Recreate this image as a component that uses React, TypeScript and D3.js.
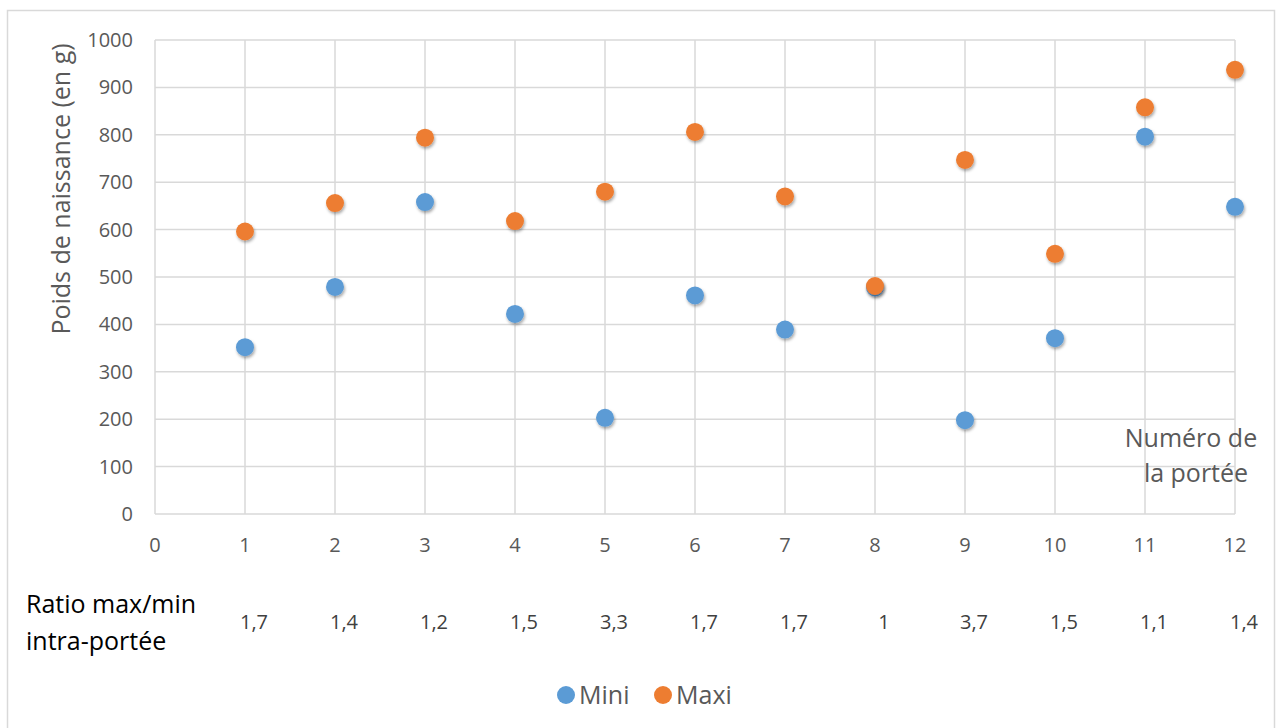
import React from "react";
import * as d3 from "d3";

const litters = [1, 2, 3, 4, 5, 6, 7, 8, 9, 10, 11, 12];
const miniValues = [352, 479, 658, 422, 203, 461, 389, 478, 198, 371, 796, 648];
const maxiValues = [596, 656, 794, 618, 680, 806, 670, 481, 747, 549, 858, 937];
const ratioLabels = ["1,7", "1,4", "1,2", "1,5", "3,3", "1,7", "1,7", "1", "3,7", "1,5", "1,1", "1,4"];
const xTicks = [0, 1, 2, 3, 4, 5, 6, 7, 8, 9, 10, 11, 12];
const yTicks = [0, 100, 200, 300, 400, 500, 600, 700, 800, 900, 1000];
const seriesNames = ["Mini", "Maxi"];
const seriesColors = ["#5B9BD5", "#ED7D31"];

const W = 1280;
const H = 728;
const FONT = "'Open Sans', 'Noto Sans', sans-serif";
const GRAY = "#595959";

export default function App() {
  const x = d3.scaleLinear().domain([0, 12]).range([155, 1235]);
  const y = d3.scaleLinear().domain([0, 1000]).range([514, 40]);
  const series = [miniValues, maxiValues];

  return (
    <svg
      width={W}
      height={H}
      style={{ position: "absolute", left: 0, top: 0, background: "#fff" }}
      fontFamily={FONT}
    >
      <defs>
        <filter id="shadow" x="-50%" y="-50%" width="200%" height="200%">
          <feDropShadow dx="1" dy="2" stdDeviation="1.6" floodColor="#000" floodOpacity="0.35" />
        </filter>
      </defs>
      <rect x={7.5} y={10.5} width={1267} height={740} fill="#fff" stroke="#D9D9D9" strokeWidth={1.5} />

      {/* gridlines */}
      {yTicks.map((t) => (
        <line key={"gy" + t} x1={x(0)} x2={x(12)} y1={y(t)} y2={y(t)} stroke="#D9D9D9" strokeWidth={1.5} />
      ))}
      {xTicks.map((t) => (
        <line key={"gx" + t} x1={x(t)} x2={x(t)} y1={y(0)} y2={y(1000)} stroke="#D9D9D9" strokeWidth={1.5} />
      ))}

      {/* y tick labels */}
      {yTicks.map((t) => (
        <text key={"ty" + t} x={x(0) - 22} y={y(t)} dy="0.35em" textAnchor="end" fontSize={20} fill={GRAY}>
          {t}
        </text>
      ))}
      {/* x tick labels */}
      {xTicks.map((t) => (
        <text key={"tx" + t} x={x(t)} y={y(0) + 38} textAnchor="middle" fontSize={20} fill={GRAY}>
          {t}
        </text>
      ))}

      {/* y axis title */}
      <text
        transform={`translate(70, 189) rotate(-90)`}
        textAnchor="middle"
        fontSize={25}
        fill={GRAY}
      >
        Poids de naissance (en g)
      </text>

      {/* x axis title */}
      <text x={1191} y={447} textAnchor="middle" fontSize={25} fill={GRAY}>
        Numéro de
      </text>
      <text x={1196} y={482} textAnchor="middle" fontSize={25} fill={GRAY}>
        la portée
      </text>

      {/* points */}
      {series.map((vals, si) =>
        vals.map((v, i) => (
          <circle
            key={"p" + si + "-" + i}
            cx={x(litters[i])}
            cy={y(v)}
            r={9}
            fill={seriesColors[si]}
            filter="url(#shadow)"
          />
        ))
      )}

      {/* ratio row */}
      <text x={26} y={613} fontSize={25} fill="#000">Ratio max/min</text>
      <text x={26} y={650} fontSize={25} fill="#000">intra-portée</text>
      {ratioLabels.map((r, i) => (
        <text key={"r" + i} x={x(litters[i]) + 9} y={629} textAnchor="middle" fontSize={20} fill="#404040">
          {r}
        </text>
      ))}

      {/* legend */}
      {seriesNames.map((n, i) => (
        <g key={"lg" + n} transform={`translate(${566 + i * 97}, 695)`}>
          <circle cx={0} cy={0} r={9} fill={seriesColors[i]} />
          <text x={13} y={0} dy="0.35em" fontSize={25} fill={GRAY}>
            {n}
          </text>
        </g>
      ))}
    </svg>
  );
}
